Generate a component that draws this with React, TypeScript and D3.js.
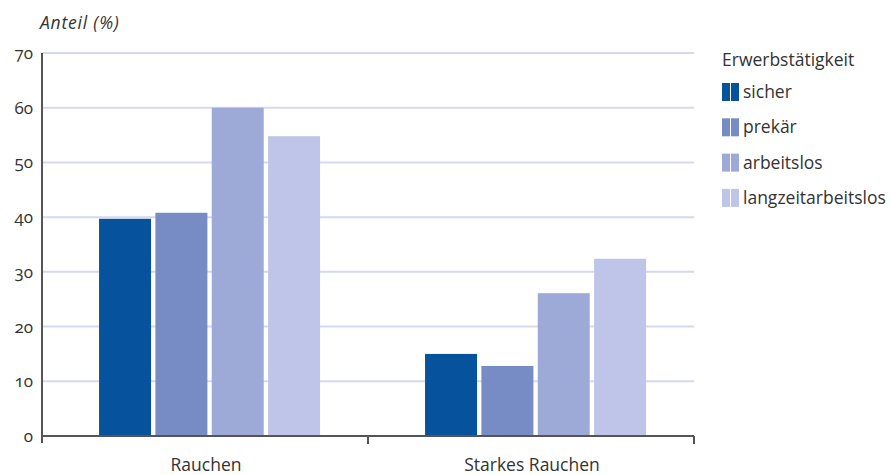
import React from "react";
import * as d3 from "d3";

const categories = ["Rauchen", "Starkes Rauchen"];
const seriesNames = ["sicher", "prekär", "arbeitslos", "langzeitarbeitslos"];
const sicher = [39.7, 15.0];
const prekaer = [40.8, 12.8];
const arbeitslos = [60.0, 26.1];
const langzeit = [54.8, 32.4];
const yTicks = [0, 10, 20, 30, 40, 50, 60, 70];
const colors = ["#07529c", "#778cc4", "#9daad8", "#bfc5e8"];

const seriesValues = [sicher, prekaer, arbeitslos, langzeit];

export default function App() {
  const W = 891, H = 475;
  const x0 = 42, x1 = 694, yTop = 53, yBot = 436;
  const font = "'Open Sans', Lato, sans-serif";
  const y = d3.scaleLinear().domain([0, 70]).range([yBot, yTop]);
  const gx = d3.scaleBand().domain(categories).range([x0, x1]).padding(0);
  const bw = gx.bandwidth();
  const inner = d3.scaleBand().domain(seriesNames).range([bw * 0.175, bw * 0.853]).paddingInner(0.077).paddingOuter(0);

  return (
    <svg width={W} height={H} style={{ position: "absolute", left: 0, top: 0, fontFamily: font }}>
      <text x={40} y={29} fontSize={17.5} fontStyle="italic" letterSpacing={0.8} fill="#333">Anteil (%)</text>
      {yTicks.slice(1).map((t) => (
        <line key={"g" + t} x1={x0} x2={x1} y1={y(t)} y2={y(t)} stroke="#d5d9f0" strokeWidth={2} />
      ))}
      {yTicks.map((t) => (
        <text key={"t" + t} x={33} y={y(t) + 6} fontSize={17} textAnchor="end" fill="#333" style={{ fontVariantNumeric: "oldstyle-nums" }}>{t}</text>
      ))}
      {categories.map((c, ci) =>
        seriesNames.map((s, si) => {
          const v = seriesValues[si][ci];
          return (
            <rect key={c + s} x={(gx(c) as number) + (inner(s) as number)} y={y(v)} width={inner.bandwidth()} height={yBot - y(v)} fill={colors[si]} />
          );
        })
      )}
      <line x1={x0} x2={x0} y1={yTop} y2={yBot + 7} stroke="#555" strokeWidth={2} />
      <line x1={x0} x2={x1} y1={yBot} y2={yBot} stroke="#555" strokeWidth={2} />
      {[...categories.map((c) => gx(c) as number).slice(1), x1].map((xx, i) => (
        <line key={"tk" + i} x1={xx} x2={xx} y1={yBot} y2={yBot + 8} stroke="#555" strokeWidth={2} />
      ))}
      {categories.map((c) => (
        <text key={"c" + c} x={(gx(c) as number) + bw / 2 + 1} y={471} fontSize={17.5} textAnchor="middle" fill="#333">{c}</text>
      ))}
      <text x={722} y={66} fontSize={17.5} fill="#333">Erwerbstätigkeit</text>
      {seriesNames.map((s, i) => {
        const cy = 92 + i * 35.3;
        return (
          <g key={"l" + s}>
            <rect x={722} y={cy - 9} width={8} height={18} fill={colors[i]} />
            <rect x={731} y={cy - 9} width={8} height={18} fill={colors[i]} />
            <text x={743} y={cy + 6} fontSize={17.5} fill="#333">{s}</text>
          </g>
        );
      })}
    </svg>
  );
}
